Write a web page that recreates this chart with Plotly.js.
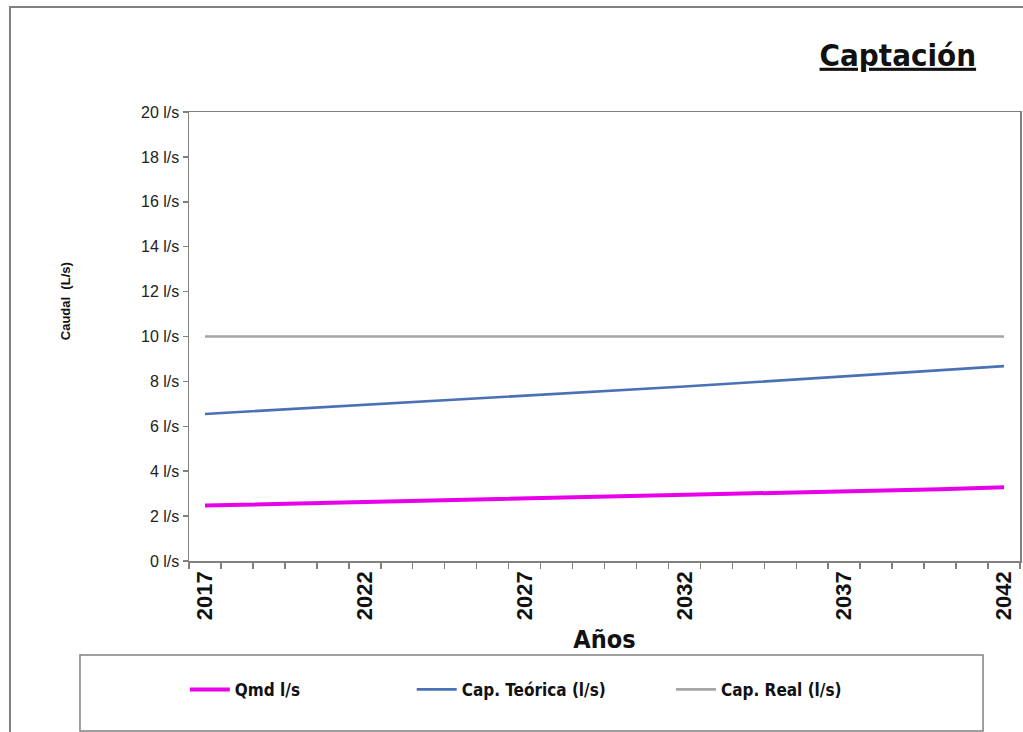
<!DOCTYPE html>
<html>
<head>
<meta charset="utf-8">
<script src="https://cdn.plot.ly/plotly-3.0.1.min.js"></script>
<style>
html,body{margin:0;padding:0;background:#fff;}
#chart{width:1023px;height:732px;}
</style>
</head>
<body>
<div id="chart"></div>
<script>
// ---- data ----
const years = [2017,2018,2019,2020,2021,2022,2023,2024,2025,2026,2027,2028,2029,2030,2031,2032,2033,2034,2035,2036,2037,2038,2039,2040,2041,2042];
const qmd = [2.47,2.50,2.54,2.57,2.60,2.63,2.66,2.69,2.72,2.74,2.77,2.80,2.84,2.87,2.90,2.93,2.97,3.00,3.03,3.07,3.10,3.14,3.17,3.20,3.24,3.28];
const capTeorica = [6.55,6.63,6.72,6.80,6.89,6.97,7.05,7.12,7.20,7.27,7.35,7.43,7.52,7.60,7.69,7.77,7.86,7.95,8.04,8.13,8.22,8.31,8.40,8.49,8.59,8.68];
const capReal = [10,10,10,10,10,10,10,10,10,10,10,10,10,10,10,10,10,10,10,10,10,10,10,10,10,10];
const tickYears = [2017,2022,2027,2032,2037,2042];
const tickLabels = ['2017','2022','2027','2032','2037','2042'];
const seriesNames = ['Qmd l/s','Cap. Teórica (l/s)','Cap. Real (l/s)'];
const yTitle = 'Caudal  (L/s)';

const NARROW = 'DejaVu Sans Condensed, Liberation Sans Narrow, Arial Narrow, sans-serif';
const SANS = 'Liberation Sans, Arial, sans-serif';
const GRAY = '#808080';

const traces = [
  {x: years, y: qmd, name: seriesNames[0], mode: 'lines', line: {color: '#e800e8', width: 4}, legend: 'legend'},
  {x: years, y: capTeorica, name: seriesNames[1], mode: 'lines', line: {color: '#4a70b5', width: 2.6}, legend: 'legend2'},
  {x: years, y: capReal, name: seriesNames[2], mode: 'lines', line: {color: '#a6a6a6', width: 2.6}, legend: 'legend3'}
];

const legFont = {family: NARROW, size: 17, color: '#111', weight: 'bold'};
function leg(x) {
  return {x: x, xref: 'paper', xanchor: 'left', y: -0.287, yref: 'paper', yanchor: 'middle',
          orientation: 'h', bgcolor: 'rgba(0,0,0,0)', borderwidth: 0, font: legFont, itemwidth: 40};
}

const layout = {
  width: 1023, height: 732,
  margin: {l: 189, r: 3, t: 112, b: 171},
  paper_bgcolor: '#fff', plot_bgcolor: '#fff',
  showlegend: true,
  title: {
    text: '<u>Captación</u>', xref: 'paper', x: 0.853, xanchor: 'center',
    yref: 'container', y: 0.925, yanchor: 'middle',
    font: {family: NARROW, size: 31, color: '#111', weight: 'bold'}
  },
  xaxis: {
    type: 'linear', range: [2016.5, 2042.5],
    tickmode: 'array', tickvals: tickYears, ticktext: tickLabels,
    ticks: '', tickangle: -90,
    tickfont: {family: SANS, size: 22, color: '#111', weight: 'bold'},
    minor: {tickmode: 'linear', tick0: 2016.5, dtick: 1, ticks: 'outside', ticklen: 6, tickcolor: GRAY, tickwidth: 1.5, showgrid: false},
    showline: true, linecolor: GRAY, linewidth: 1.5, mirror: true,
    showgrid: false, zeroline: false,
    title: {text: 'Años', standoff: 11, font: {family: NARROW, size: 25, color: '#111', weight: 'bold'}}
  },
  yaxis: {
    range: [0, 20], dtick: 2, tick0: 0, ticksuffix: ' l/s',
    ticks: 'outside', ticklen: 5, tickcolor: GRAY, tickwidth: 1.5,
    tickfont: {family: SANS, size: 16, color: '#222'},
    showline: true, linecolor: GRAY, linewidth: 1.5, mirror: true,
    showgrid: false, zeroline: false
  },
  annotations: [
    {text: yTitle, xref: 'paper', yref: 'paper', x: -0.149, y: 0.579, xanchor: 'center', yanchor: 'middle',
     textangle: -90, showarrow: false, font: {family: SANS, size: 13, color: '#111', weight: 'bold'}}
  ],
  legend: leg(-0.005),
  legend2: leg(0.268),
  legend3: leg(0.58),
  shapes: [
    {type: 'rect', xref: 'paper', yref: 'paper', x0: -0.2154, x1: 1.2, y0: -0.6, y1: 1.2339,
     line: {color: GRAY, width: 2}, fillcolor: 'rgba(0,0,0,0)', layer: 'below'},
    {type: 'rect', xref: 'paper', yref: 'paper', x0: -0.1312, x1: 0.9555, y0: -0.3786, y1: -0.2094,
     line: {color: GRAY, width: 1.5}, fillcolor: 'rgba(0,0,0,0)'}
  ]
};

Plotly.newPlot('chart', traces, layout, {displayModeBar: false, staticPlot: true});
</script>
</body>
</html>
